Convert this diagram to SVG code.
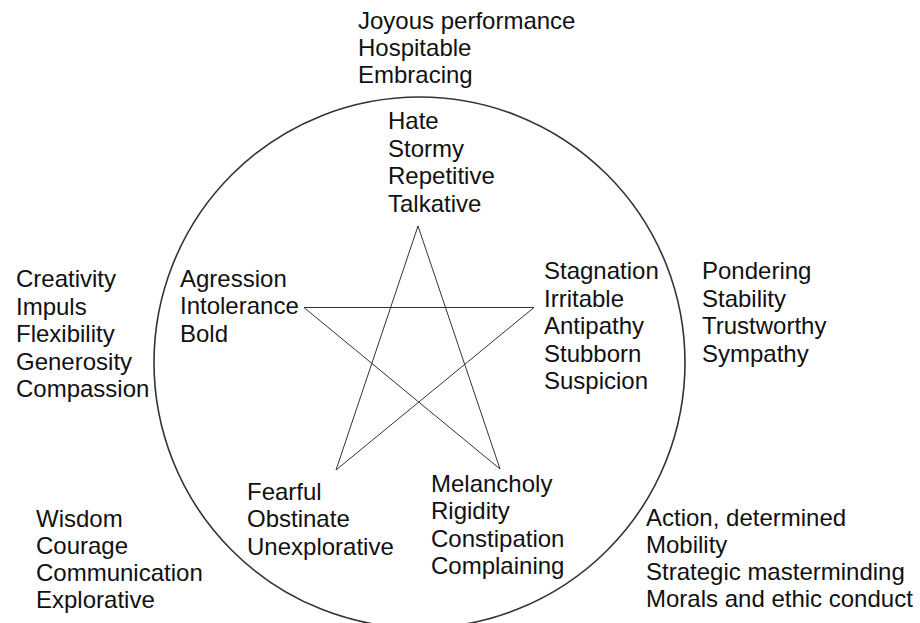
<svg xmlns="http://www.w3.org/2000/svg" width="920" height="623" viewBox="0 0 920 623">
<style>
text { font-family: "Liberation Sans", Arial, sans-serif; font-size: 24px; fill: #111; }
.ring { fill: none; stroke: #333; stroke-width: 1.6; }
.star { fill: none; stroke: #333; stroke-width: 1; stroke-linejoin: miter; }
</style>
<rect width="920" height="623" fill="#fff"/>
<g id="circle"><circle class="ring" cx="419.5" cy="362.5" r="265.5"/></g>
<g id="connectors">
<polygon class="star" points="418,226 500,469 304,307.5 534,307.5 336,470"/>
</g>
<g id="outer-top"><text x="358" y="29">Joyous performance</text><text x="358" y="56">Hospitable</text><text x="358" y="83">Embracing</text></g>
<g id="inner-top"><text x="388" y="129">Hate</text><text x="388" y="157">Stormy</text><text x="388" y="184">Repetitive</text><text x="388" y="212">Talkative</text></g>
<g id="inner-left"><text x="180" y="287">Agression</text><text x="180" y="314">Intolerance</text><text x="180" y="342">Bold</text></g>
<g id="outer-left"><text x="16" y="287">Creativity</text><text x="16" y="315">Impuls</text><text x="16" y="342">Flexibility</text><text x="16" y="370">Generosity</text><text x="16" y="397">Compassion</text></g>
<g id="inner-right"><text x="544" y="279">Stagnation</text><text x="544" y="307">Irritable</text><text x="544" y="334">Antipathy</text><text x="544" y="362">Stubborn</text><text x="544" y="389">Suspicion</text></g>
<g id="outer-right"><text x="702" y="279">Pondering</text><text x="702" y="307">Stability</text><text x="702" y="334">Trustworthy</text><text x="702" y="362">Sympathy</text></g>
<g id="inner-bottom-left"><text x="247" y="500">Fearful</text><text x="247" y="527">Obstinate</text><text x="247" y="555">Unexplorative</text></g>
<g id="inner-bottom-right"><text x="431" y="492">Melancholy</text><text x="431" y="519">Rigidity</text><text x="431" y="547">Constipation</text><text x="431" y="574">Complaining</text></g>
<g id="outer-bottom-left"><text x="36" y="527">Wisdom</text><text x="36" y="554">Courage</text><text x="36" y="581">Communication</text><text x="36" y="608">Explorative</text></g>
<g id="outer-bottom-right"><text x="646" y="526">Action, determined</text><text x="646" y="553">Mobility</text><text x="646" y="580">Strategic masterminding</text><text x="646" y="607">Morals and ethic conduct</text></g>
</svg>
